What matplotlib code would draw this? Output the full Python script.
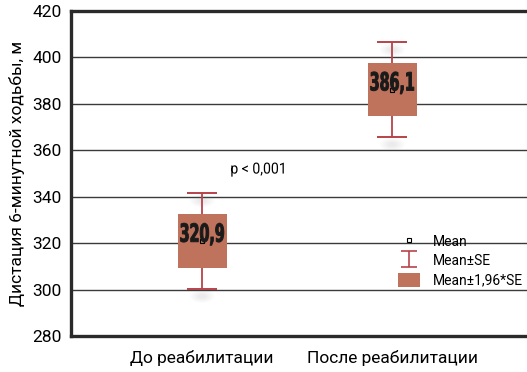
import matplotlib.pyplot as plt
from matplotlib.lines import Line2D
from matplotlib.patches import Patch, Ellipse
from matplotlib.path import Path
from matplotlib.patheffects import AbstractPathEffect
from matplotlib.transforms import Affine2D

groups = ['До реабилитации', 'После реабилитации']
means = [320.9, 386.1]
box_half = [11.6, 11.3]      # Mean±1,96*SE
whisker_half = [20.6, 20.4]  # Mean±SE
mean_labels = ['320,9', '386,1']

box_color = '#C0735C'
err_color = '#B8434A'


class Squeeze(AbstractPathEffect):
    """Narrow the glyphs horizontally (condensed look), optionally embolden."""

    def __init__(self, sx, stroke=0.0):
        super().__init__()
        self.sx = sx
        self.stroke = stroke

    def draw_path(self, renderer, gc, tpath, affine, rgbFace=None):
        ext = tpath.get_extents()
        cx = (ext.x0 + ext.x1) / 2
        tr = Affine2D().translate(-cx, 0).scale(self.sx, 1).translate(cx, 0) + affine
        gc0 = renderer.new_gc()
        gc0.copy_properties(gc)
        if self.stroke and rgbFace is not None:
            gc0.set_linewidth(self.stroke)
            gc0.set_foreground(rgbFace)
        renderer.draw_path(gc0, tpath, tr, rgbFace)
        gc0.restore()


plt.rcParams['font.family'] = ['Roboto', 'DejaVu Sans']

fig = plt.figure(figsize=(5.27, 3.72), dpi=100)
ax = fig.add_axes([0.1347, 0.0968, 0.8653, 0.8736])

x = [1, 2]
w = 0.257
for xi, m, bh, wh, lab in zip(x, means, box_half, whisker_half, mean_labels):
    # faint shadows under the whisker caps
    for yy in (m + wh - 3.2, m - wh - 3.2):
        for k in range(5):
            ax.add_patch(Ellipse((xi, yy), 0.13 - k * 0.022, 5.5 - k * 0.9,
                                 color='#808080', alpha=0.03, lw=0, zorder=1))
    ax.errorbar(xi, m, yerr=wh, fmt='none', ecolor=err_color, elinewidth=1.3,
                capsize=10.5, capthick=1.4, zorder=2)
    ax.bar(xi, 2 * bh, bottom=m - bh, width=w, color=box_color, zorder=3)
    ax.plot(xi, m, marker='s', markersize=3.5, markerfacecolor='none',
            markeredgecolor='black', markeredgewidth=0.8, zorder=4)
    ax.text(xi, m - 0.3, lab, ha='center', va='baseline', fontsize=18,
            fontweight='bold', family='DejaVu Sans', color='#1a1a1a', zorder=5,
            path_effects=[Squeeze(0.57, stroke=0.7)])

ax.text(1.297, 351.7, 'p < 0,001', ha='center', va='center', fontsize=11,
        path_effects=[Squeeze(0.92)])

ax.set_xlim(0.31, 2.709)
ax.set_ylim(280, 420)
ax.set_yticks(range(280, 421, 20))
ax.set_xticks(x)
ax.set_xticklabels(groups, fontsize=12.5)
ax.tick_params(axis='y', labelsize=12.5, length=0, pad=7)
ax.tick_params(axis='x', length=0, pad=10)
ax.grid(axis='y', color='#3a3a3a', linewidth=1.0)
ax.set_axisbelow(True)
ax.spines['right'].set_visible(False)
for s in ['left', 'top', 'bottom']:
    ax.spines[s].set_linewidth(2.4)
    ax.spines[s].set_color('#2a2a2a')
ax.set_ylabel('Дистация 6-минутной ходьбы, м', fontsize=12.5, labelpad=5)

ibeam = Path([(-1, 1), (1, 1), (0, 1), (0, -1), (-1, -1), (1, -1)],
             [Path.MOVETO, Path.LINETO, Path.MOVETO, Path.LINETO,
              Path.MOVETO, Path.LINETO])
handles = [
    Line2D([], [], linestyle='none', marker='s', markersize=3.5,
           markerfacecolor='none', markeredgecolor='black', markeredgewidth=0.8),
    Line2D([], [], linestyle='none', marker=ibeam, markersize=12,
           markeredgecolor=err_color, markeredgewidth=1.2, color=err_color),
    Patch(facecolor=box_color),
]
ax.legend(handles, ['Mean', 'Mean±SE', 'Mean±1,96*SE'], loc='upper left',
          bbox_to_anchor=(0.705, 0.331), frameon=False, fontsize=10,
          handlelength=1.6, handleheight=1.15, handletextpad=0.9,
          labelspacing=0.35, borderaxespad=0)

fig.savefig('out.png', dpi=100)
